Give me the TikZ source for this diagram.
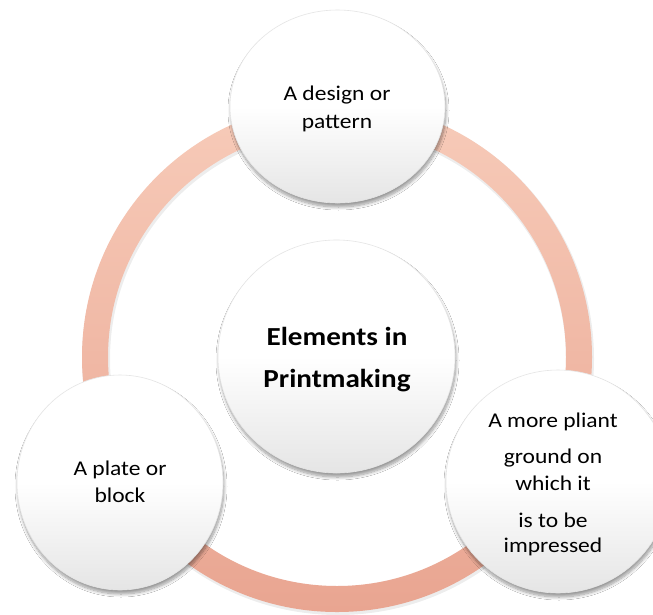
\documentclass[tikz,border=0pt]{standalone}
\usepackage{fontspec}
\newfontfamily\cfont{Carlito}[FakeStretch=1.12]
\usetikzlibrary{shapes.geometric,shadows.blur}
\definecolor{ringtop}{HTML}{F7CBB9}
\definecolor{ringbot}{HTML}{E9A591}
\definecolor{discbot}{HTML}{E5E5E5}
\tikzset{
  disc/.style={ellipse, inner sep=0pt, draw=black!10, line width=0.6pt, top color=white, bottom color=discbot, middle color=white,
    blur shadow={shadow xshift=1pt, shadow yshift=-4pt, shadow blur steps=10, shadow blur radius=3pt, shadow opacity=40}},
  sattext/.style={anchor=base, inner sep=0pt, font=\cfont\fontsize{21}{25}\selectfont},
  centertext/.style={anchor=base, inner sep=0pt, font=\cfont\bfseries\fontsize{26}{30}\selectfont}
}
\begin{document}
\begin{tikzpicture}[x=1pt,y=-1pt]
\useasboundingbox (0,0) rectangle (653,614);
\fill[white] (0,0) rectangle (653,614);
% ring shadow
\fill[even odd rule, black, opacity=0.07] (338,359) circle[radius=256] (338,359) circle[radius=228];
% ring
\path[even odd rule, top color=ringtop, bottom color=ringbot] (337,357) circle[radius=255] (337,357) circle[radius=229];
% discs
\node[disc, minimum width=237pt, minimum height=233pt] (center) at (336.5,356.5) {};
\node[disc, minimum width=215pt, minimum height=193pt] (top) at (337.5,106.5) {};
\node[disc, minimum width=206pt, minimum height=215pt] (left) at (120,482.5) {};
\node[disc, minimum width=224pt, minimum height=223pt] (right) at (558,481.5) {};
% texts
\node[sattext] (t1) at (337,100) {A design or};
\node[sattext] (t2) at (337,128) {pattern};
\node[centertext] (c1) at (337,345) {Elements in};
\node[centertext] (c2) at (337,387) {Printmaking};
\node[sattext] (l1) at (120,475) {A plate or};
\node[sattext] (l2) at (120,502) {block};
\node[sattext] (r1) at (553,427) {A more pliant};
\node[sattext] (r2) at (553,463) {ground on};
\node[sattext] (r3) at (553,490) {which it};
\node[sattext] (r4) at (553,527) {is to be};
\node[sattext] (r5) at (553,552) {impressed};
\end{tikzpicture}
\end{document}
